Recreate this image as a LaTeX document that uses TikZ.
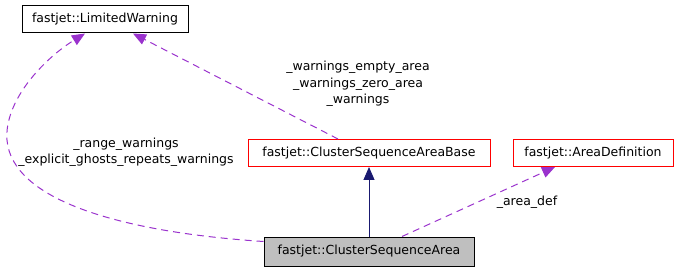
\documentclass[tikz,border=0pt]{standalone}
\usepackage{fontspec}
\setmainfont{DejaVu Sans}
\usetikzlibrary{arrows.meta,calc}
\definecolor{edgepurple}{HTML}{9A32CD}
\definecolor{edgenavy}{HTML}{191970}
\definecolor{boxgray}{HTML}{BFBFBF}
\tikzset{
  cls/.style={draw=black, line width=1pt, minimum height=27pt, inner sep=0pt, font=\fontsize{12.5}{14}\selectfont},
  redcls/.style={cls, draw=red},
  curcls/.style={cls, fill=boxgray},
  usage/.style={draw=edgepurple, line width=1pt, dash pattern=on 7pt off 5pt, -{Triangle[length=13pt,width=11pt]}},
  inherit/.style={draw=edgenavy, line width=1pt, -{Triangle[length=13pt,width=11pt]}},
  lbl/.style={font=\fontsize{12.5}{16.5}\selectfont, align=center, inner sep=0pt}
}
\begin{document}
\begin{tikzpicture}[x=1pt,y=-1pt]
\useasboundingbox (0,0) rectangle (679,272);
\node[cls, minimum width=166pt] (lw) at (105,19.5) {fastjet::LimitedWarning};
\node[redcls, minimum width=242pt] (base) at (369,153) {fastjet::ClusterSequenceAreaBase};
\node[redcls, minimum width=160pt] (ad) at (593,153) {fastjet::AreaDefinition};
\node[curcls, minimum width=210pt, minimum height=29pt] (csa) at (369,251.5) {fastjet::ClusterSequenceArea};
% inheritance
\draw[inherit] (csa.north) -- (base.south);
% usage: area def
\coordinate (adsrc) at ($(csa.north)+(33,0)$);
\coordinate (adtip) at ($(ad.south)+(-38,0)$);
\draw[usage] (adsrc) -- (adtip);
\node[lbl] (adl) at (527,202) {\_area\_def};
% usage: base -> limited warning
\coordinate (bsrc) at ($(base.north)+(-31,0)$);
\coordinate (lwtip1) at ($(lw.south)+(28,0)$);
\draw[usage] (bsrc) -- (lwtip1);
\node[lbl] (bl) at (358,84) {\_warnings\_empty\_area\\\_warnings\_zero\_area\\\_warnings};
% usage: csa -> limited warning (curved)
\coordinate (csrc) at ($(csa.west)+(0,-10)$);
\coordinate (lwtip2) at ($(lw.south)+(-20,0)$);
\draw[usage] (csrc) .. controls (120,232) and (12,200) .. (7,140) .. controls (4,100) and (45,58) .. (lwtip2);
\node[lbl] (cl) at (126,152) {\_range\_warnings\\\_explicit\_ghosts\_repeats\_warnings};
\end{tikzpicture}
\end{document}
